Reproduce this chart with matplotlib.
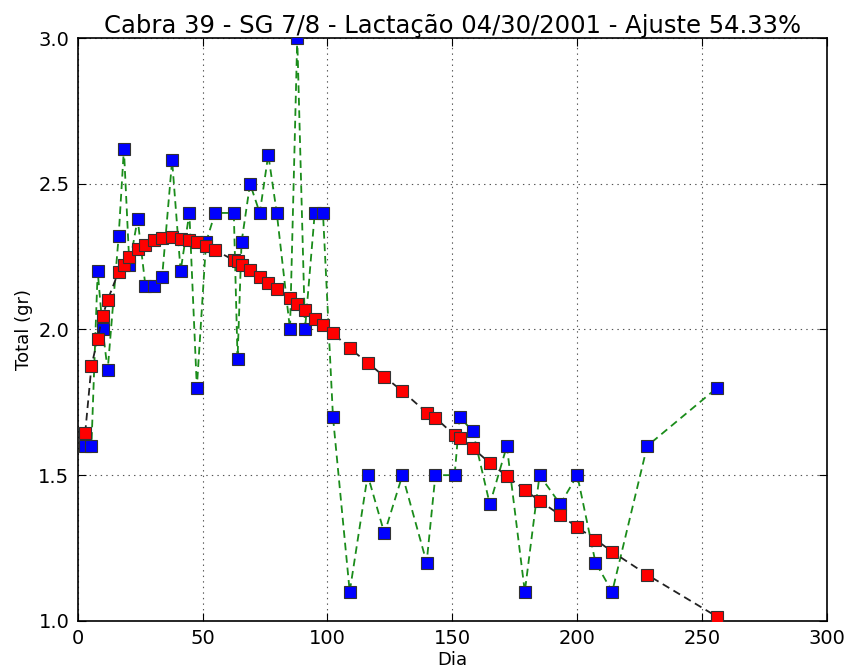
import numpy as np
import matplotlib
matplotlib.use('Agg')
from matplotlib import pyplot as plt

dias = [3, 5.5, 8, 10, 12, 16.4, 18.5, 20.7, 24, 27.1, 30.5, 33.8, 37.8, 41.2,
        44.7, 47.7, 51.4, 55, 62.5, 64, 65.6, 69, 72.9, 76.3, 79.7, 85, 87.9,
        91, 94.9, 98.2, 102.2, 108.9, 116.1, 122.8, 130, 139.7, 143.2, 150.9,
        152.9, 158.2, 165, 171.8, 179, 184.9, 193.2, 200, 207.3, 214, 228, 256]
medido = [1.6, 1.6, 2.2, 2.0, 1.86, 2.32, 2.62, 2.22, 2.38, 2.15, 2.15, 2.18,
          2.58, 2.2, 2.4, 1.8, 2.3, 2.4, 2.4, 1.9, 2.3, 2.5, 2.4, 2.6, 2.4, 2.0,
          3.0, 2.0, 2.4, 2.4, 1.7, 1.1, 1.5, 1.3, 1.5, 1.2, 1.5, 1.5, 1.7, 1.65,
          1.4, 1.6, 1.1, 1.5, 1.4, 1.5, 1.2, 1.1, 1.6, 1.8]
ajuste = [1.645, 1.874, 1.969, 2.046, 2.101, 2.199, 2.221, 2.249, 2.275, 2.29,
          2.307, 2.313, 2.316, 2.311, 2.307, 2.30, 2.286, 2.272, 2.238, 2.235,
          2.221, 2.204, 2.181, 2.158, 2.138, 2.109, 2.087, 2.067, 2.037, 2.017,
          1.988, 1.935, 1.886, 1.838, 1.788, 1.715, 1.697, 1.637, 1.626, 1.592,
          1.542, 1.497, 1.449, 1.412, 1.363, 1.321, 1.279, 1.237, 1.158, 1.014]

titulo = 'Cabra 39 - SG 7/8 - Lactação 04/30/2001 - Ajuste 54.33%'

plt.rcParams['font.family'] = 'DejaVu Sans'
plt.rcParams['lines.scale_dashes'] = False
fig = plt.figure(figsize=(8.5, 6.69), dpi=100)
ax = fig.add_axes([0.0914, 0.072, 0.8816, 0.871])

ax.plot(dias, medido, color='#1a8c1a', ls='--', dashes=(5.5, 3.5), lw=1.3, zorder=2)
ax.plot(dias, medido, 'bs', ms=8.5, mec='#333333', mew=0.8, zorder=3)
ax.plot(dias, ajuste, color='#222222', ls='--', dashes=(5.5, 3.5), lw=1.3, zorder=4)
ax.plot(dias, ajuste, 'rs', ms=8.5, mec='#333333', mew=0.8, zorder=5)

ax.set_xlim(0, 300)
ax.set_ylim(1.0, 3.0)
ax.set_xticks([0, 50, 100, 150, 200, 250, 300])
ax.set_yticks([1.0, 1.5, 2.0, 2.5, 3.0])
ax.grid(True, color='#555555', linestyle=(0, (1, 3)), linewidth=0.8)
ax.tick_params(direction='in', top=True, right=True, length=6, labelsize=14, pad=6)
for s in ax.spines.values():
    s.set_linewidth(1.2)

ax.set_xlabel('Dia', fontsize=13, labelpad=2)
ax.set_ylabel('Total (gr)', fontsize=13)
ax.set_title(titulo, fontsize=17.5, pad=4)

plt.savefig('out.png', dpi=100)
